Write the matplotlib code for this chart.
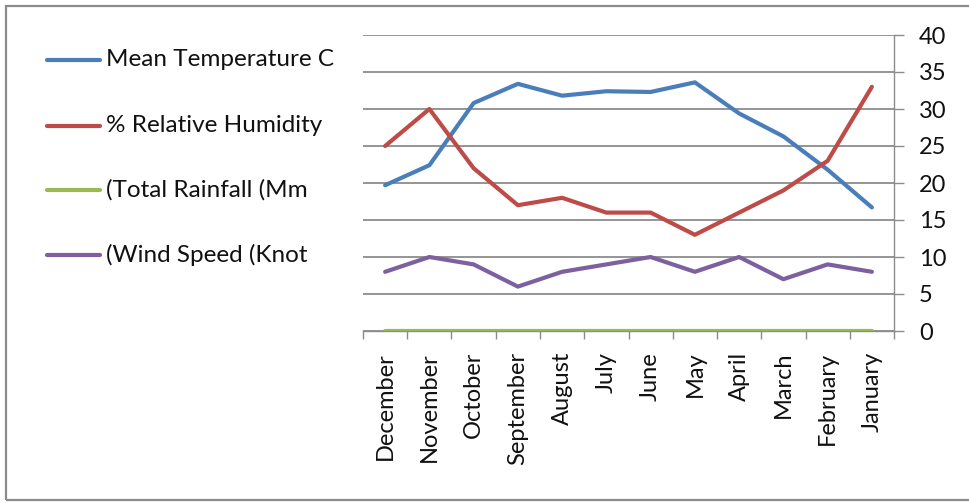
import matplotlib
matplotlib.use("Agg")
import matplotlib.pyplot as plt
from matplotlib.patches import Rectangle
import numpy as np

plt.rcParams['font.family'] = ['Lato', 'DejaVu Sans']

months = ["December", "November", "October", "September", "August", "July",
          "June", "May", "April", "March", "February", "January"]
mean_temp = [19.7, 22.4, 30.8, 33.4, 31.8, 32.4, 32.3, 33.6, 29.4, 26.3, 21.8, 16.7]
humidity = [25, 30, 22, 17, 18, 16, 16, 13, 16, 19, 23, 33]
rainfall = [0, 0, 0, 0, 0, 0, 0, 0, 0, 0, 0, 0]
wind = [8, 10, 9, 6, 8, 9, 10, 8, 10, 7, 9, 8]

series_names = ["Mean Temperature C", "% Relative Humidity",
                "(Total Rainfall (Mm", "(Wind Speed (Knot"]
colors = ["#4A7EBB", "#BE4B48", "#98B954", "#7D60A0"]
yticks = [0, 5, 10, 15, 20, 25, 30, 35, 40]

W, H = 970, 503
fig = plt.figure(figsize=(W / 100, H / 100), dpi=100)

# outer frame
fig.patches.append(Rectangle((6 / W, 3 / H), 1.2, (H - 9) / H, transform=fig.transFigure,
                             fill=False, edgecolor="#8c8c8c", linewidth=1.6))

ax = fig.add_axes([363 / W, 1 - 331 / H, (894 - 363) / W, (331 - 35) / H])
x = np.arange(len(months))
for vals, c in zip([mean_temp, humidity, rainfall, wind], colors):
    ax.plot(x, vals, color=c, linewidth=3.0, solid_capstyle="round", zorder=3)

ax.set_xlim(-0.5, len(months) - 0.5)
ax.set_ylim(0, 40)
ax.yaxis.tick_right()
ax.set_yticks(yticks)
ax.set_yticklabels([str(v) for v in yticks], fontsize=17, color="#111111")
ax.tick_params(axis="y", length=7, width=1, color="#8c8c8c", pad=11)
ax.grid(axis="y", color="#8c8c8c", linewidth=1.3)
ax.set_axisbelow(True)

ax.set_xticks(x)
ax.set_xticklabels(months, rotation=90, fontsize=17, color="#111111")
ax.tick_params(axis="x", length=0, pad=15)
ax.set_xticks(np.arange(-0.5, len(months)), minor=True)
ax.tick_params(axis="x", which="minor", length=6, width=1, color="#8c8c8c")

for s in ["top", "left"]:
    ax.spines[s].set_visible(False)
ax.spines["right"].set_color("#8c8c8c")
ax.spines["bottom"].set_color("#8c8c8c")
ax.spines["right"].set_linewidth(1.0)
ax.spines["bottom"].set_linewidth(1.0)

# legend drawn on the left side
legend_y = [60, 126, 190, 255]
for name, c, yy in zip(series_names, colors, legend_y):
    fy = 1 - yy / H
    fig.add_artist(plt.Line2D([47 / W, 100 / W], [fy, fy], color=c, linewidth=3.0,
                              solid_capstyle="round", transform=fig.transFigure))
    fig.text(106 / W, fy, name, fontsize=17.5, va="center", ha="left", color="#111111")

fig.savefig("out.png", dpi=100, facecolor="white")
